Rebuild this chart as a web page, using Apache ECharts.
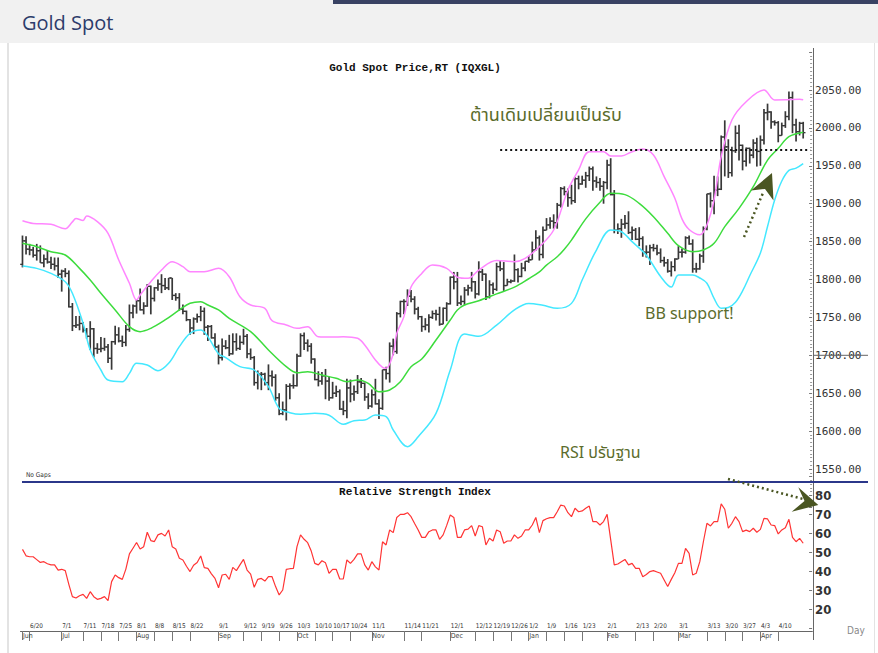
<!DOCTYPE html>
<html><head><meta charset="utf-8">
<script src="https://cdn.jsdelivr.net/npm/echarts@6.0.0/dist/echarts.min.js"></script>
<style>
html,body{margin:0;padding:0;background:#fff;width:878px;height:653px;overflow:hidden;}
#hdr{position:absolute;left:0;top:0;width:878px;height:43px;background:#f1f1f1;}
#bar{position:absolute;left:333px;top:0;width:545px;height:4px;background:#394263;}
#ttl{position:absolute;left:22px;top:9px;font-family:'Open Sans',sans-serif;font-size:20px;color:#2d3c6b;}
#lb{position:absolute;left:7px;top:43px;width:2px;height:610px;background:#e3e3e3;}
#rb{position:absolute;left:874px;top:43px;width:1px;height:610px;background:#e3e3e3;}
#c{position:absolute;left:0;top:0;width:878px;height:653px;}
</style></head>
<body>
<div id="hdr"></div><div id="bar"></div><div id="ttl">Gold Spot</div><div id="lb"></div><div id="rb"></div>
<div id="c"></div>
<script>
// ---------- data (daily, weekdays 16 Jun 2022 – 19 Apr 2023) ----------
const firstDay = '2022-06-16';
const tickLabels = ['6/20','7/1','7/11','7/18','7/25','8/1','8/8','8/15','8/22','9/1','9/12','9/19','9/26','10/3','10/10','10/17','10/24','11/1','11/14','11/21','12/1','12/12','12/19','12/26','1/2','1/9','1/16','1/23','2/1','2/13','2/20','3/1','3/13','3/20','3/27','4/3','4/10'];
const monthStarts = ['6/16','7/1','8/1','9/1','10/3','11/1','12/1','1/2','2/1','3/1','4/3'];
const monthNames  = ['Jun','Jul','Aug','Sep','Oct','Nov','Dec','Jan','Feb','Mar','Apr'];

const openP = [
1820,1851,1840,1839,1832,1838,1822,1827,1823,1820,
1818,1807,1811,1808,1764,1739,1740,1742,1733,1725,
1735,1709,1708,1709,1711,1696,1718,1727,1719,1717,
1734,1756,1765,1772,1760,1765,1791,1775,1789,1794,
1792,1789,1802,1779,1776,1761,1758,1747,1736,1748,
1751,1758,1737,1738,1723,1711,1697,1712,1710,1702,
1718,1709,1717,1725,1702,1697,1664,1675,1675,1664,
1673,1671,1644,1623,1628,1659,1660,1660,1699,1726,
1716,1712,1695,1668,1666,1673,1666,1644,1650,1652,
1629,1627,1657,1649,1652,1665,1663,1645,1633,1648,
1636,1630,1681,1676,1712,1705,1755,1771,1771,1778,
1774,1761,1751,1738,1740,1750,1755,1754,1741,1762,
1768,1803,1797,1769,1771,1786,1789,1797,1781,1810,
1807,1777,1793,1787,1817,1814,1792,1797,1798,1813,
1804,1815,1824,1826,1839,1855,1833,1865,1872,1877,
1875,1898,1920,1916,1908,1904,1933,1926,1931,1937,
1946,1930,1928,1923,1928,1951,1912,1865,1867,1873,
1874,1862,1865,1853,1854,1836,1836,1842,1841,1835,
1825,1822,1811,1817,1827,1836,1836,1855,1847,1814,
1814,1831,1867,1913,1904,1918,1919,1988,1975,1941,
1970,1993,1977,1956,1973,1964,1980,1969,1984,2020,
2021,2008,2007,1990,2003,2015,2040,2004,1995,2006];
const highP = [
1858,1857,1847,1843,1847,1845,1833,1838,1830,1829,
1829,1813,1815,1812,1769,1752,1752,1744,1736,1745,
1736,1716,1724,1723,1715,1719,1739,1737,1726,1740,
1767,1767,1773,1788,1770,1794,1792,1790,1800,1807,
1802,1802,1802,1782,1782,1767,1759,1748,1750,1755,
1765,1763,1740,1740,1729,1714,1722,1720,1727,1729,
1729,1726,1735,1728,1709,1699,1680,1678,1677,1688,
1680,1675,1650,1639,1662,1663,1675,1702,1729,1730,
1721,1716,1696,1679,1678,1682,1672,1665,1660,1655,
1640,1669,1668,1660,1674,1670,1664,1650,1655,1669,
1642,1681,1685,1717,1722,1757,1772,1774,1787,1786,
1778,1764,1752,1749,1754,1759,1760,1764,1763,1770,
1804,1810,1810,1779,1790,1793,1810,1798,1824,1814,
1808,1799,1796,1822,1825,1823,1801,1800,1833,1815,
1822,1824,1831,1850,1865,1858,1870,1881,1882,1886,
1901,1922,1923,1920,1925,1935,1937,1937,1942,1949,
1949,1936,1934,1930,1958,1960,1918,1874,1880,1885,
1890,1870,1868,1869,1857,1845,1846,1847,1846,1841,
1830,1827,1824,1828,1844,1841,1857,1858,1853,1822,
1834,1870,1913,1915,1937,1936,1990,2010,1985,1975,
2003,2004,1978,1974,1974,1985,1987,1990,2025,2032,
2022,2010,2009,2007,2022,2048,2048,2012,2008,2008];
const lowP = [
1816,1833,1832,1829,1825,1822,1816,1821,1814,1812,
1802,1784,1803,1763,1732,1736,1733,1730,1722,1707,
1697,1702,1704,1706,1690,1681,1714,1717,1711,1712,
1731,1749,1755,1759,1754,1764,1754,1771,1785,1782,
1786,1786,1773,1772,1759,1754,1745,1727,1728,1743,
1745,1727,1719,1722,1708,1688,1693,1708,1699,1701,
1706,1707,1714,1696,1694,1660,1655,1654,1660,1654,
1659,1640,1621,1621,1614,1642,1656,1659,1698,1707,
1705,1689,1667,1659,1661,1642,1640,1643,1645,1628,
1621,1617,1638,1640,1649,1657,1640,1629,1631,1635,
1616,1628,1668,1664,1700,1702,1750,1754,1765,1770,
1754,1747,1731,1733,1730,1748,1746,1739,1741,1745,
1767,1787,1765,1766,1766,1779,1784,1775,1779,1798,
1773,1775,1781,1785,1811,1785,1792,1795,1797,1796,
1803,1811,1822,1826,1838,1825,1828,1865,1867,1867,
1867,1895,1911,1896,1899,1901,1919,1925,1921,1930,
1917,1921,1917,1900,1919,1911,1861,1860,1855,1867,
1860,1852,1852,1844,1830,1829,1819,1837,1832,1822,
1817,1809,1804,1811,1827,1829,1834,1846,1809,1809,
1813,1822,1865,1895,1886,1910,1918,1936,1934,1936,
1967,1957,1944,1949,1953,1960,1949,1950,1978,2010,
1999,2003,1981,1990,2000,2010,1993,1982,1990,1986];
const closeP = [
1851,1840,1839,1832,1838,1822,1827,1823,1820,1818,
1807,1811,1808,1764,1739,1740,1742,1733,1725,1735,
1709,1708,1709,1711,1696,1718,1727,1719,1717,1734,
1756,1765,1772,1760,1765,1791,1775,1789,1794,1792,
1789,1802,1779,1776,1761,1758,1747,1736,1748,1751,
1758,1737,1738,1723,1711,1697,1712,1710,1702,1718,
1709,1717,1725,1702,1697,1664,1675,1675,1664,1673,
1671,1644,1623,1628,1659,1660,1660,1699,1726,1716,
1712,1695,1668,1666,1673,1666,1644,1650,1652,1629,
1627,1657,1649,1652,1665,1663,1645,1633,1648,1636,
1630,1681,1676,1712,1705,1755,1771,1771,1778,1774,
1761,1751,1738,1740,1750,1755,1754,1741,1762,1768,
1803,1797,1769,1771,1786,1789,1797,1781,1810,1807,
1777,1793,1787,1817,1814,1792,1797,1798,1813,1804,
1815,1824,1826,1839,1855,1833,1865,1872,1877,1875,
1898,1920,1916,1908,1904,1933,1926,1931,1937,1946,
1930,1928,1923,1928,1951,1912,1865,1867,1873,1874,
1862,1865,1853,1854,1836,1836,1842,1841,1835,1825,
1822,1811,1817,1827,1836,1836,1855,1847,1814,1814,
1831,1867,1913,1904,1918,1919,1988,1975,1941,1970,
1993,1977,1956,1973,1964,1980,1969,1984,2020,2021,
2008,2007,1990,2003,2015,2040,2004,1995,2006,1993.7];

// Bollinger bands at [day index, price]
const bbUpper = [[0,1877.6],[3,1874],[8,1872.8],[12,1867],[14,1876],[15,1880.5],[17,1878],[18,1883.8],[21,1876.3],[24,1860.9],[27,1825.7],[30,1795],[32,1772.9],[33,1779.6],[36,1797.1],[39,1812.5],[42,1823.5],[45,1817],[47,1810.3],[51,1810.3],[55,1814.7],[58,1803.7],[61,1777.3],[64,1766.3],[68,1762],[70,1745.7],[74,1740],[77,1735.6],[80,1737.8],[83,1724.6],[87,1724],[90,1724.6],[94,1722.4],[96,1713.6],[99,1693.8],[101,1684],[102,1683],[104,1702],[105,1729],[107,1751],[109,1790],[112,1808],[115,1819],[119,1814.7],[122,1803],[125,1801.5],[128,1812.5],[133,1825],[138,1823.5],[141,1827.9],[145,1843.3],[149,1865.3],[153,1918],[156,1944.5],[159,1968.6],[163,1968.6],[165,1962.9],[168,1963],[171,1968.6],[174,1972.2],[177,1964.2],[180,1935.7],[183,1907.1],[185,1880],[187,1866],[190,1859],[192,1872],[194,1905],[196,1962],[199,2010.4],[203,2034.6],[208,2050],[211,2036.8],[214,2037],[218,2037.7],[219,2037]];
const bbMid = [[0,1847.7],[4,1843.3],[8,1836.7],[12,1832.3],[16,1814.7],[19,1799.3],[22,1781.8],[26,1759.8],[30,1737.8],[33,1731.2],[36,1735.6],[40,1746.6],[44,1759.8],[47,1768.6],[50,1770.8],[52,1766.3],[55,1759.8],[58,1748.7],[64,1731.2],[69,1707],[74,1685],[77,1677],[80,1678.4],[84,1674],[88,1669.6],[91,1665.2],[94,1667.4],[97,1663],[100,1652],[103,1654.2],[106,1665.2],[109,1685],[112,1695],[116,1720.2],[120,1746.6],[122,1759.7],[124,1766.3],[128,1772],[133,1781],[138,1790],[142,1801],[145,1810],[147,1819],[150,1830],[152,1840],[154,1852],[158,1880],[162,1902],[165,1913.7],[169,1912],[173,1900.5],[177,1882.9],[181,1860.9],[184,1844.6],[188,1836.7],[191,1838.9],[194,1847.7],[197,1869.7],[201,1893.9],[205,1922.5],[209,1957.6],[212,1973],[215,1988.4],[219,1994.2]];
const bbLower = [[0,1817.8],[4,1814.7],[8,1808.1],[12,1797.1],[14,1781.8],[17,1742.2],[19,1707],[22,1680.6],[24,1667.4],[28,1665.2],[30,1676.2],[32,1689.4],[35,1687.2],[38,1679.7],[41,1689.4],[44,1711.4],[47,1729],[50,1733.4],[52,1724.6],[55,1702],[57,1697],[61,1685],[65,1680.6],[69,1658.6],[72,1630],[75,1624.3],[78,1622.1],[82,1623.4],[86,1621],[90,1609],[93,1613.7],[96,1614.6],[99,1621.2],[102,1619],[104,1601.4],[108,1579.4],[111,1592.6],[116,1623.4],[120,1680.6],[124,1728],[128,1725],[133,1739.9],[138,1760],[142,1768.5],[146,1766],[150,1762],[154,1768.5],[157,1799.3],[161,1838.9],[165,1865.3],[168,1863],[171,1850],[175,1832],[179,1804],[182,1790],[184,1806],[188,1806],[190,1802],[192,1795],[194,1775],[196,1762],[198,1763],[200,1770],[202,1785],[204,1805],[207,1835],[209,1870],[211,1905],[213,1930],[215,1944],[217,1947],[219,1953]];

const rsi = [
51.4,48,47.5,47.5,46,44.5,44.9,43.8,43.2,43.2,
40.5,40.9,40.2,33,26.5,25.8,27,27.7,25.6,29.1,
26.5,25.1,25.6,26.5,24.4,34.4,37.9,36.5,35.6,41,
49,52,55,51.6,52.8,60.4,56,55.5,59,59.8,
58.4,61.6,52.8,51.6,46.7,45.8,42.5,39.7,43,44.5,
47.9,41.8,41.4,38.5,36.1,31.2,37.9,38.3,35.6,41.9,
40.2,43.2,46.1,40.5,38.4,31.4,35.6,36.1,34.7,37,
37,31.8,27.4,30,40.9,41.2,41.4,52.8,59,56.7,
54.9,50.5,44,43.2,45.4,44.3,38.8,40.9,40.9,35.8,
35.8,45.8,44,46.1,49,49,43.2,40.5,44.9,42.2,
40.5,55.4,53.7,61.6,60.2,68.2,69.8,69.8,70.7,68.6,
65,61.6,57.7,57.7,60.7,61.6,61.6,56.7,59,64,
69.5,68.2,57.7,57.7,61.6,62,63.9,58.4,63.9,63.3,
53.7,57.2,55.8,61.6,60.7,54.6,55.8,55.8,59,57.2,
58.4,61.6,61.6,64.2,68.2,60.2,66.5,67.5,68.1,68.1,
71.2,74.7,74.2,70.7,68.6,73,71.2,71.6,73,74.2,
66,66,64.2,66,69.8,56.5,43.2,43.7,44.9,46.1,
43.2,44,41.4,41.4,37,38.2,39.7,40.2,39.5,38.8,
35.3,31.8,35.6,39.1,44,44,51.9,49.3,37.9,38.8,
44.9,55.4,65.1,63.7,66,66,75.3,72.5,62.5,65.1,
68.6,66,60.7,61.5,60.7,62.5,60.4,61.9,67.7,67.4,
64.2,63.9,59.5,61.6,62.8,67.2,57.7,55.4,57.2,54.6];

const resistanceLevel = 1971;
const resistanceFromDay = 134;
const lastClose = closeP[closeP.length - 1];

// ---------- categories ----------
const NCAT = closeP.length + 2;
const cats = [];
{
  const d = new Date(firstDay + 'T00:00:00Z');
  while (cats.length < NCAT) {
    const wd = d.getUTCDay();
    if (wd !== 0 && wd !== 6) cats.push((d.getUTCMonth() + 1) + '/' + d.getUTCDate());
    d.setUTCDate(d.getUTCDate() + 1);
  }
}
const tickSet = new Set(tickLabels);
const monthMap = {};
monthStarts.forEach((m, k) => monthMap[m] = monthNames[k]);

const ohlc = closeP.map((c, i) => [i, openP[i], highP[i], lowP[i], c]);

const GL = 20.7, GW = 791.4;
const olive = '#5b6c2c';
const oliveDark = '#4a5622';
const narrow = "'Liberation Sans Narrow','DejaVu Sans Condensed',sans-serif";

const chart = echarts.init(document.getElementById('c'), null, {renderer: 'svg'});
chart.setOption({
  animation: false,
  grid: [
    {left: GL, width: GW, top: 52.1, height: 454.8},
    {left: GL, width: GW, top: 476, height: 152},
    {left: GL, width: GW, top: 621, height: 10}
  ],
  xAxis: [
    {gridIndex: 0, type: 'category', data: cats, boundaryGap: true, show: false},
    {gridIndex: 1, type: 'category', data: cats, boundaryGap: true, show: false},
    {gridIndex: 2, type: 'category', data: cats, boundaryGap: true, position: 'top',
     axisLine: {show: true, lineStyle: {color: '#666', width: 1}},
     axisTick: {show: true, inside: true, length: 10, alignWithLabel: true,
       interval: (i, v) => tickSet.has(v), lineStyle: {color: '#777'}},
     axisLabel: {show: true, inside: true, margin: 1.5, interval: (i, v) => tickSet.has(v),
       align: 'left', padding: [0, 0, 0, 0.5], fontSize: 6.4, fontFamily: narrow, color: '#333'}},
    {gridIndex: 2, type: 'category', data: cats, boundaryGap: true, position: 'bottom',
     axisLine: {show: true, lineStyle: {color: '#666', width: 1}},
     axisTick: {show: true, length: 9, alignWithLabel: true,
       interval: (i, v) => v in monthMap, lineStyle: {color: '#777'}},
     axisLabel: {show: true, margin: 1, interval: (i, v) => v in monthMap,
       formatter: v => monthMap[v] || '', align: 'left', padding: [0, 0, 0, 0.5], fontSize: 7,
       fontFamily: narrow, color: '#444'}}
  ],
  yAxis: [
    {gridIndex: 0, type: 'value', min: 1500, max: 2100, interval: 50, position: 'right',
     axisLine: {show: false}, splitLine: {show: false},
     axisTick: {show: true, inside: true, length: 3, lineStyle: {color: '#777'}},
     minorTick: {show: true, splitNumber: 10, length: 2, lineStyle: {color: '#999'}},
     axisLabel: {margin: 3, fontSize: 11, fontFamily: "'DejaVu Sans Mono',monospace", color: '#333',
       formatter: v => (v < 1550 || v > 2050) ? '' : v.toFixed(2)}},
    {gridIndex: 1, type: 'value', min: 10, max: 90, interval: 10, position: 'right',
     axisLine: {show: false}, splitLine: {show: false},
     axisTick: {show: true, inside: true, length: 3, lineStyle: {color: '#777'}},
     axisLabel: {margin: 3, fontSize: 13, fontWeight: 'bold', fontFamily: narrow, color: '#333',
       formatter: v => (v < 20 || v > 80) ? '' : String(v)}},
    {gridIndex: 2, type: 'value', show: false}
  ],
  series: [
    {type: 'custom', name: 'Gold', xAxisIndex: 0, yAxisIndex: 0, z: 2, data: ohlc,
     encode: {x: 0, y: [1, 2, 3, 4]},
     renderItem: (params, api) => {
       const i = api.value(0);
       const h = api.coord([i, api.value(2)]), l = api.coord([i, api.value(3)]);
       const o = api.coord([i, api.value(1)]), c = api.coord([i, api.value(4)]);
       const x = h[0];
       return {type: 'group', children: [
         {type: 'line', shape: {x1: x, y1: h[1], x2: x, y2: l[1]}, style: {stroke: '#383838', lineWidth: 1.7}},
         {type: 'line', shape: {x1: x - 2.3, y1: o[1], x2: x, y2: o[1]}, style: {stroke: '#383838', lineWidth: 1.3}},
         {type: 'line', shape: {x1: x, y1: c[1], x2: x + 2.3, y2: c[1]}, style: {stroke: '#383838', lineWidth: 1.3}}
       ]};
     }},
    {type: 'line', name: 'BB upper', xAxisIndex: 0, yAxisIndex: 0, z: 3, data: bbUpper, smooth: 0.35,
     showSymbol: false, lineStyle: {color: '#ff86ff', width: 1.5},
     markLine: {silent: true, symbol: ['none', 'none'], lineStyle: {opacity: 0, width: 0},
       label: {show: true, position: 'end', distance: 2, formatter: () => lastClose.toFixed(2),
         backgroundColor: '#000', color: '#fff', padding: [2, 2, 1, 2],
         fontFamily: "'DejaVu Sans Mono',monospace", fontSize: 12},
       data: [{yAxis: lastClose}]}},
    {type: 'line', name: 'BB mid', xAxisIndex: 0, yAxisIndex: 0, z: 3, data: bbMid, smooth: 0.35,
     showSymbol: false, lineStyle: {color: '#3ddc3d', width: 1.5},
     markLine: {silent: true, symbol: ['none', 'none'], label: {show: false},
       lineStyle: {type: [2, 3], color: '#111', width: 2},
       data: [[{coord: [resistanceFromDay, resistanceLevel]}, {coord: [NCAT - 1, resistanceLevel]}]]}},
    {type: 'line', name: 'BB lower', xAxisIndex: 0, yAxisIndex: 0, z: 3, data: bbLower, smooth: 0.35,
     showSymbol: false, lineStyle: {color: '#44e8ff', width: 1.5}},
    {type: 'line', name: 'RSI', xAxisIndex: 1, yAxisIndex: 1, data: rsi, showSymbol: false,
     lineStyle: {color: '#ff3434', width: 1.2}}
  ],
  graphic: [
    {type: 'line', z: 50, shape: {x1: 813.5, y1: 48, x2: 813.5, y2: 640}, style: {stroke: '#666', lineWidth: 1}},
    {type: 'line', z: 50, shape: {x1: 22, y1: 482, x2: 868, y2: 482}, style: {stroke: '#2b378a', lineWidth: 2}},
    {type: 'line', z: 50, shape: {x1: 813, y1: 355.3, x2: 868, y2: 355.3}, style: {stroke: '#666', lineWidth: 1}},
    {type: 'text', z: 50, x: 415, y: 68, style: {text: 'Gold Spot Price,RT (IQXGL)', fill: '#111',
      font: "bold 11px 'Liberation Mono','DejaVu Sans Mono',monospace", align: 'center', verticalAlign: 'middle', textAlign: 'center', textVerticalAlign: 'middle'}},
    {type: 'text', z: 50, x: 415, y: 492, style: {text: 'Relative Strength Index', fill: '#111',
      font: "bold 11px 'Liberation Mono','DejaVu Sans Mono',monospace", align: 'center', verticalAlign: 'middle', textAlign: 'center', textVerticalAlign: 'middle'}},
    {type: 'text', z: 50, x: 26, y: 475, style: {text: 'No Gaps', fill: '#333',
      font: "6.5px " + narrow, verticalAlign: 'middle', textVerticalAlign: 'middle'}},
    {type: 'text', z: 50, x: 847, y: 630, style: {text: 'Day', fill: '#888',
      font: "10px " + narrow, verticalAlign: 'middle', textVerticalAlign: 'middle'}},
    {type: 'text', z: 50, x: 470, y: 115, style: {text: 'ต้านเดิมเปลี่ยนเป็นรับ', fill: olive,
      font: "18px 'Noto Sans Thai','Noto Sans',sans-serif", verticalAlign: 'middle', textVerticalAlign: 'middle'}},
    {type: 'text', z: 50, x: 645, y: 313, style: {text: 'BB support!', fill: olive,
      font: "16px 'Noto Sans',sans-serif", verticalAlign: 'middle', textVerticalAlign: 'middle'}},
    {type: 'text', z: 50, x: 560, y: 453, style: {text: 'RSI ปรับฐาน', fill: olive,
      font: "16px 'Noto Sans Thai','Noto Sans',sans-serif", verticalAlign: 'middle', textVerticalAlign: 'middle'}},
    {type: 'line', z: 50, shape: {x1: 744, y1: 237, x2: 763, y2: 193}, style: {stroke: oliveDark, lineWidth: 2.5, lineDash: [2, 3]}},
    {type: 'polygon', z: 50, shape: {points: [[772, 173], [751, 190.5], [765, 189], [773.5, 200.5]]}, style: {fill: oliveDark}},
    {type: 'line', z: 50, shape: {x1: 728, y1: 479, x2: 803, y2: 499}, style: {stroke: oliveDark, lineWidth: 2.5, lineDash: [2, 3]}},
    {type: 'polygon', z: 50, shape: {points: [[818.3, 505], [798.3, 487.3], [804.5, 501], [791.7, 511.7]]}, style: {fill: oliveDark}}
  ]
});
</script>
</body></html>
